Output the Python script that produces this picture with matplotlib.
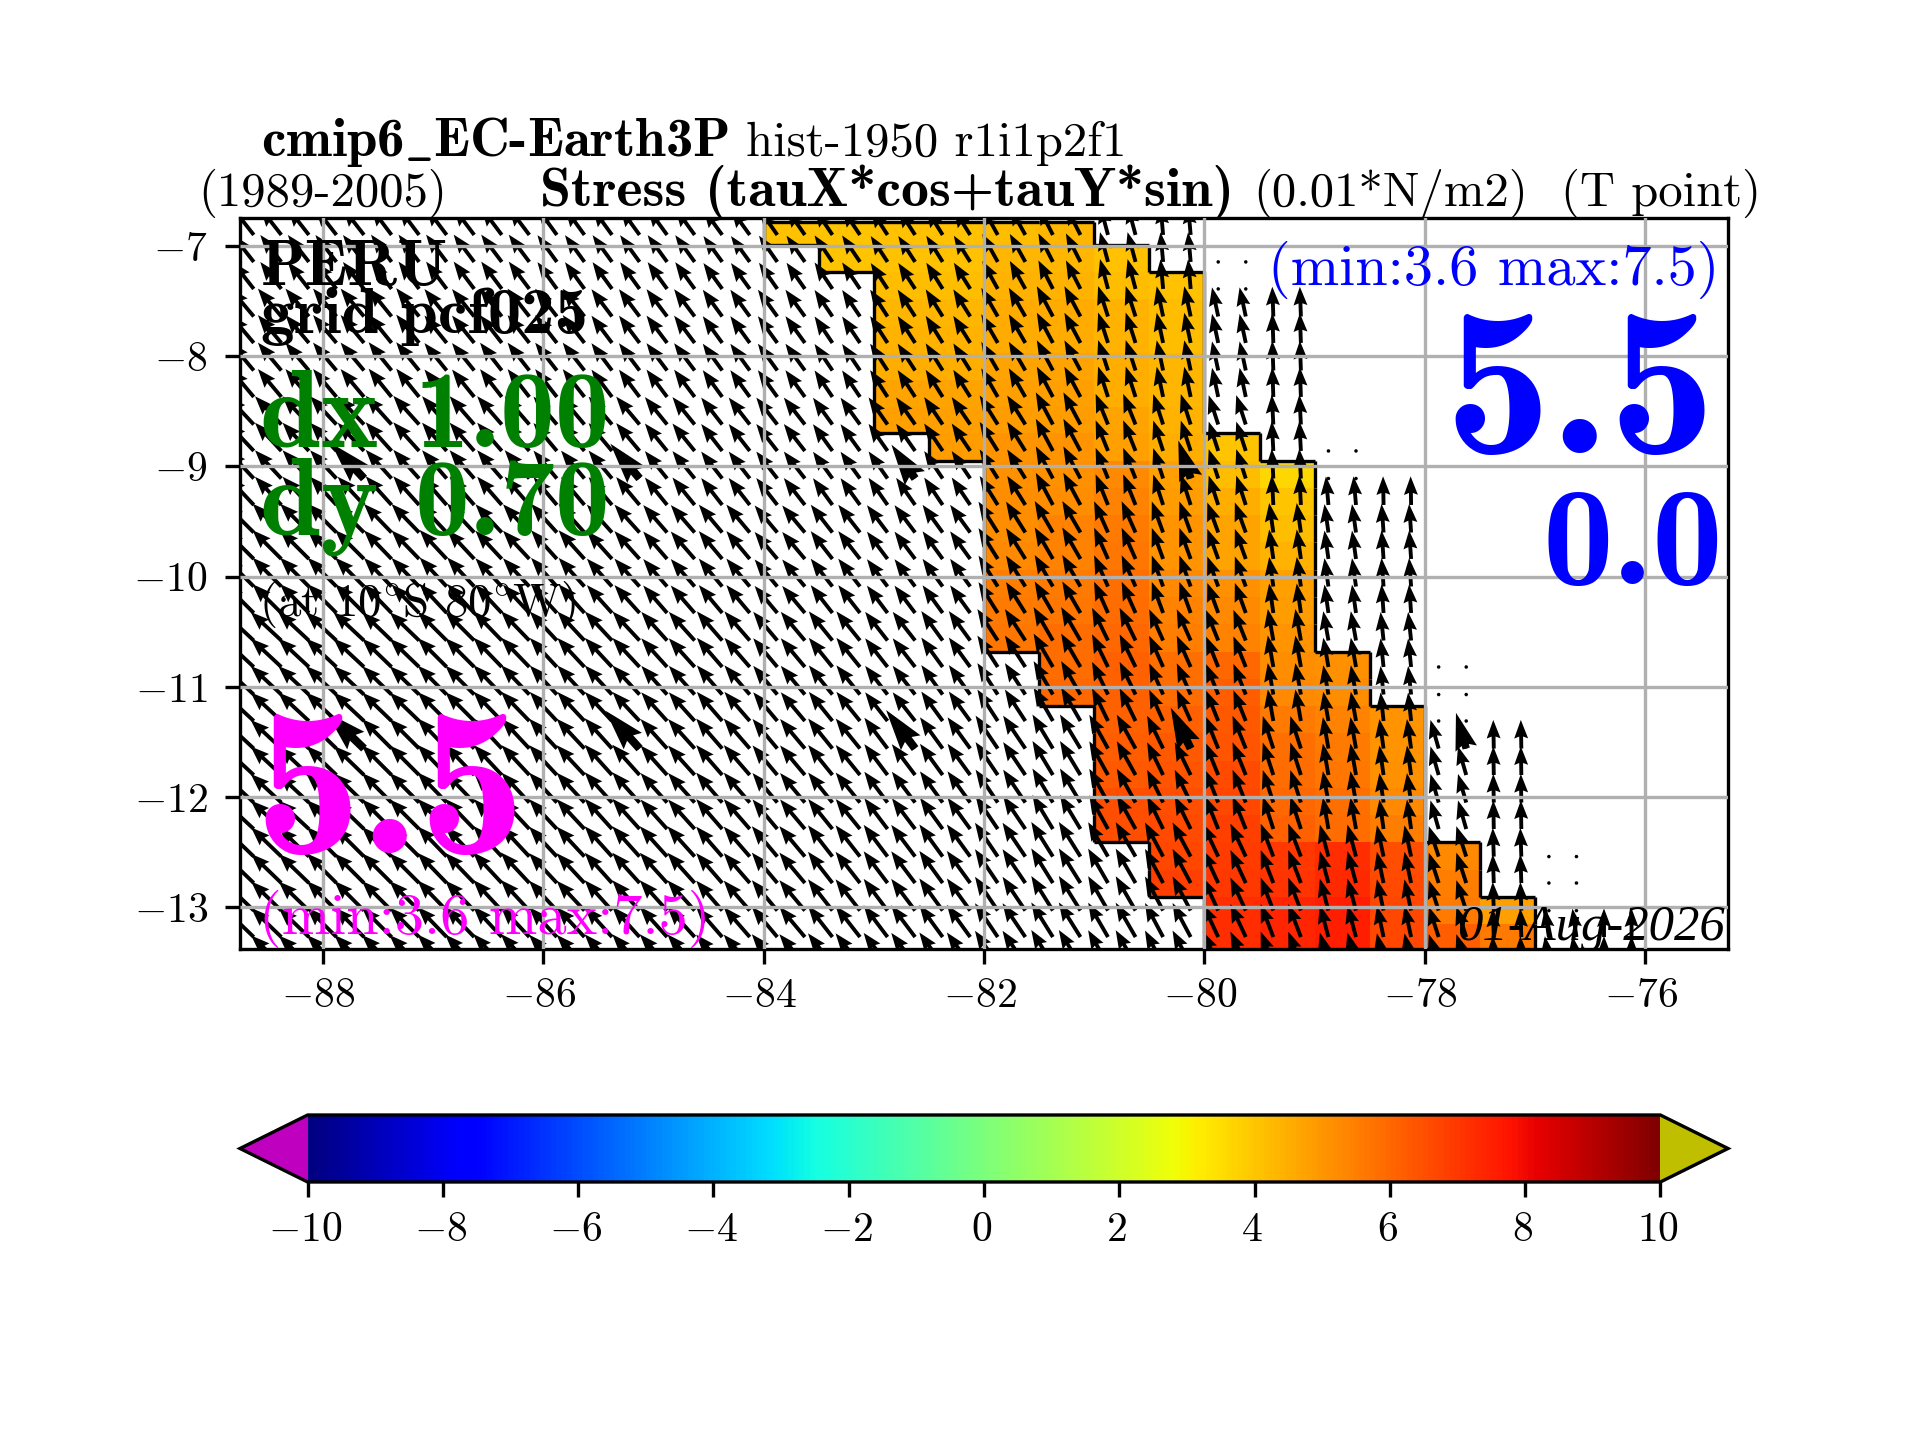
import matplotlib
matplotlib.use('Agg')
import matplotlib.pyplot as plt
from matplotlib.collections import LineCollection
from matplotlib.cm import ScalarMappable
from matplotlib.colors import Normalize
from matplotlib.transforms import ScaledTranslation
import numpy as np

plt.rcParams['font.family'] = ['cmr10', 'DejaVu Serif']
plt.rcParams['mathtext.fontset'] = 'cm'
plt.rcParams['axes.formatter.use_mathtext'] = True
plt.rcParams['axes.unicode_minus'] = True

nan = np.nan

# Cell edges of the stress field
lon_edges = [-84, -83.5, -83, -82.5, -82, -81.5, -81, -80.5, -80, -79.5, -79, -78.5, -78, -77.5, -77]
lat_edges = [-6.78, -6.995, -7.24, -7.485, -7.73, -7.97, -8.215, -8.46, -8.70, -8.95, -9.195, -9.44,
             -9.69, -9.94, -10.185, -10.43, -10.68, -10.925, -11.17, -11.42, -11.67, -11.915, -12.16,
             -12.41, -12.66, -12.905, -13.15, -13.395]

# Stress in 0.01 N/m2, top row first, estimated from the colours
stress = [
    [4.1, 4.0, 4.1, 4.1, 4.2, 4.3, nan, nan, nan, nan, nan, nan, nan, nan],
    [nan, 4.0, 4.1, 4.1, 4.3, 4.3, 4.1, nan, nan, nan, nan, nan, nan, nan],
    [nan, nan, 4.2, 4.2, 4.4, 4.4, 4.2, 4.1, nan, nan, nan, nan, nan, nan],
    [nan, nan, 4.3, 4.3, 4.6, 4.6, 4.4, 4.2, nan, nan, nan, nan, nan, nan],
    [nan, nan, 4.4, 4.4, 4.6, 4.6, 4.4, 4.2, nan, nan, nan, nan, nan, nan],
    [nan, nan, 4.5, 4.5, 4.7, 4.7, 4.5, 4.3, nan, nan, nan, nan, nan, nan],
    [nan, nan, 4.7, 4.7, 4.8, 4.8, 4.5, 4.3, nan, nan, nan, nan, nan, nan],
    [nan, nan, 4.8, 4.8, 4.9, 4.9, 4.7, 4.4, nan, nan, nan, nan, nan, nan],
    [nan, nan, nan, 4.9, 5.0, 5.0, 4.8, 4.5, 4.0, nan, nan, nan, nan, nan],
    [nan, nan, nan, nan, 5.1, 5.1, 5.3, 4.8, 4.2, 3.6, nan, nan, nan, nan],
    [nan, nan, nan, nan, 5.2, 5.2, 5.4, 4.9, 4.5, 4.0, nan, nan, nan, nan],
    [nan, nan, nan, nan, 5.2, 5.4, 5.6, 5.0, 4.7, 4.2, nan, nan, nan, nan],
    [nan, nan, nan, nan, 5.3, 5.4, 5.7, 5.0, 4.7, 4.4, nan, nan, nan, nan],
    [nan, nan, nan, nan, 5.5, 5.6, 5.8, 5.3, 5.1, 4.8, nan, nan, nan, nan],
    [nan, nan, nan, nan, 5.6, 5.7, 5.9, 5.4, 5.3, 4.9, nan, nan, nan, nan],
    [nan, nan, nan, nan, 5.7, 5.9, 6.0, 5.5, 5.4, 5.0, nan, nan, nan, nan],
    [nan, nan, nan, nan, nan, 5.9, 6.1, 5.8, 6.0, 5.2, 5.1, nan, nan, nan],
    [nan, nan, nan, nan, nan, 6.0, 6.1, 5.9, 6.2, 5.3, 5.2, nan, nan, nan],
    [nan, nan, nan, nan, nan, nan, 6.1, 6.1, 6.3, 5.6, 5.4, 5.0, nan, nan],
    [nan, nan, nan, nan, nan, nan, 6.2, 6.3, 6.4, 5.8, 5.6, 5.0, nan, nan],
    [nan, nan, nan, nan, nan, nan, 6.3, 6.4, 6.6, 5.9, 5.7, 5.1, nan, nan],
    [nan, nan, nan, nan, nan, nan, 6.5, 6.5, 6.7, 6.0, 5.8, 5.3, nan, nan],
    [nan, nan, nan, nan, nan, nan, 6.5, 6.6, 6.8, 6.1, 5.9, 5.5, nan, nan],
    [nan, nan, nan, nan, nan, nan, nan, 6.7, 6.9, 7.0, 7.2, 6.5, 5.3, nan],
    [nan, nan, nan, nan, nan, nan, nan, 6.8, 7.0, 7.1, 7.3, 6.6, 5.5, nan],
    [nan, nan, nan, nan, nan, nan, nan, nan, 7.2, 7.4, 7.5, 6.7, 5.6, 4.8],
    [nan, nan, nan, nan, nan, nan, nan, nan, 7.2, 7.4, 7.5, 6.7, 6.2, 5.6],
]

# Arrow tails: two columns in each half degree block
arrow_lons = np.arange(-88.625, -76, 0.25)
arrow_lats = [-6.90, -7.145, -7.39, -7.64, -7.88, -8.13, -8.37, -8.62, -8.86, -9.11, -9.35, -9.60, -9.84,
              -10.09, -10.33, -10.58, -10.82, -11.07, -11.31, -11.56, -11.80, -12.05, -12.29, -12.54,
              -12.78, -13.03, -13.27, -13.52]

# Direction (degrees west of north) and length (degrees) per lat band and block
band_lats = [-7, -8, -9, -10, -11, -12, -13]
block_lons = [-89, -88.5, -88, -87.5, -87, -86.5, -86, -85.5, -85, -84.5, -84, -83.5, -83, -82.5, -82,
              -81.5, -81, -80.5, -80, -79.5, -79, -78.5, -78, -77.5, -77, -76.5]
arrow_angle = [
    [38, 38, 38, 37, 37, 37, 36, 36, 36, 36, 35, 34, 33, 32, 29, 27, 15, 5, 7, 0, 0, 0, 0, 0, 0, 0],
    [40, 40, 40, 39, 39, 38, 38, 37, 37, 36, 36, 34, 33, 32, 30, 28, 18, 12, 12, 2, 0, 0, 0, 0, 0, 0],
    [43, 43, 43, 42, 41, 41, 40, 40, 39, 38, 38, 36, 35, 34, 32, 28, 22, 18, 18, 3, 5, 1, 0, 0, 0, 0],
    [45, 45, 45, 44, 43, 43, 42, 42, 41, 40, 40, 38, 37, 36, 32, 30, 24, 20, 20, 8, 8, 4, 0, 0, 0, 0],
    [47, 47, 47, 46, 45, 44, 43, 43, 42, 41, 40, 39, 38, 36, 33, 30, 26, 24, 22, 10, 10, 6, 10, 0, 0, 0],
    [47, 47, 46, 45, 44, 43, 43, 42, 42, 41, 40, 39, 37, 36, 34, 31, 29, 26, 22, 18, 10, 8, 16, 1, 0, 0],
    [46, 46, 45, 45, 44, 43, 43, 42, 42, 41, 40, 38, 37, 36, 34, 32, 30, 28, 25, 21, 15, 12, 18, 2, 8, 0],
]
arrow_len = [
    [.31, .31, .31, .31, .31, .31, .30, .30, .30, .29, .29, .29, .28, .28, .29, .29, .28, .27, .26, .26, .26, .26, .26, .26, .26, .26],
    [.33, .33, .33, .33, .32, .32, .32, .31, .31, .30, .30, .29, .29, .29, .30, .31, .29, .28, .27, .27, .26, .26, .26, .26, .26, .26],
    [.35, .35, .35, .35, .34, .34, .33, .33, .32, .31, .31, .30, .30, .30, .31, .33, .30, .29, .28, .27, .26, .26, .26, .26, .26, .26],
    [.37, .37, .37, .36, .36, .35, .35, .34, .33, .33, .32, .32, .31, .31, .33, .33, .31, .30, .29, .27, .26, .26, .26, .26, .26, .26],
    [.38, .38, .38, .37, .37, .37, .36, .36, .35, .35, .34, .34, .33, .33, .34, .35, .33, .31, .30, .29, .27, .26, .26, .26, .26, .26],
    [.38, .38, .38, .38, .38, .37, .37, .37, .36, .36, .35, .35, .35, .35, .36, .36, .35, .33, .32, .31, .29, .27, .27, .26, .26, .26],
    [.38, .38, .38, .38, .38, .38, .37, .37, .37, .36, .36, .36, .36, .36, .37, .37, .36, .35, .33, .32, .30, .29, .29, .26, .26, .26],
]

# East of -80 the arrows start lower down, some blocks have zero vectors on top
east_blocks = [-80, -79.5, -79, -78.5, -78, -77.5, -77, -76.5]
first_arrow_lat = [-7.64, -7.64, -9.35, -9.35, -11.56, -11.56, -13.27, -13.27]
first_dot_lat = [-7.145, nan, -8.86, nan, -10.82, nan, -12.54, nan]

# Larger arrows, overdrawn on the field
big_lons = [-87.625, -85.125, -82.625, -80.125, -87.625, -85.125, -82.625, -80.125, -77.625]
big_lats = [-9.11, -9.11, -9.11, -9.11, -11.56, -11.56, -11.56, -11.56, -11.56]

xticks = [-88, -86, -84, -82, -80, -78, -76]
yticks = [-7, -8, -9, -10, -11, -12, -13]
cbar_ticks = [-10, -8, -6, -4, -2, 0, 2, 4, 6, 8, 10]


def arrow_uv(lon, lat):
    i = int(np.argmin(np.abs(np.array(band_lats) - lat)))
    j = int(np.searchsorted(block_lons, lon) - 1)
    a = np.deg2rad(arrow_angle[i][j])
    return -arrow_len[i][j] * np.sin(a), arrow_len[i][j] * np.cos(a)


def tp(x, y, s, **kw):
    # x and baseline y in pixels of the 1920x1440 picture
    fig.text(x / 1920, 1 - y / 1440, s, va='baseline', zorder=6, **kw)


def nudge(labels, px):
    for label in labels:
        label.set_transform(label.get_transform() + ScaledTranslation(px / 300, 0, fig.dpi_scale_trans))


fig = plt.figure(figsize=(6.4, 4.8), dpi=300)
ax = fig.add_axes([0.125, 1 - 949 / 1440, 0.775, 731 / 1440])

cmap = plt.get_cmap('jet').copy()
cmap.set_under((0.75, 0, 0.75))
cmap.set_over((0.75, 0.75, 0))
norm = Normalize(-10, 10)

field = np.array(stress)
ax.pcolormesh(lon_edges, lat_edges, np.ma.masked_invalid(field), cmap=cmap, norm=norm, zorder=1)

# Black staircase round the filled cells
segments = []
filled = ~np.isnan(field)
for r in range(filled.shape[0]):
    for c in range(filled.shape[1]):
        if not filled[r, c]:
            continue
        if r == 0 or not filled[r - 1, c]:
            segments.append([(lon_edges[c], lat_edges[r]), (lon_edges[c + 1], lat_edges[r])])
        if r == filled.shape[0] - 1 or not filled[r + 1, c]:
            segments.append([(lon_edges[c], lat_edges[r + 1]), (lon_edges[c + 1], lat_edges[r + 1])])
        if c == 0 or not filled[r, c - 1]:
            segments.append([(lon_edges[c], lat_edges[r]), (lon_edges[c], lat_edges[r + 1])])
        if c == filled.shape[1] - 1 or not filled[r, c + 1]:
            segments.append([(lon_edges[c + 1], lat_edges[r]), (lon_edges[c + 1], lat_edges[r + 1])])
ax.add_collection(LineCollection(segments, colors='k', linewidths=0.8, zorder=1.5))

xs, ys, us, vs = [], [], [], []
for lon in arrow_lons:
    for lat in arrow_lats:
        u, v = arrow_uv(lon, lat)
        if lon > -80:
            k = int(np.floor((lon + 80) / 0.5))
            if lat > first_arrow_lat[k] + 0.01:
                if np.isnan(first_dot_lat[k]) or lat > first_dot_lat[k] + 0.01:
                    continue
                u, v = 0.0, 0.0
        xs.append(lon)
        ys.append(lat)
        us.append(u)
        vs.append(v)
ax.quiver(xs, ys, us, vs, angles='xy', scale_units='xy', scale=1, pivot='tail', width=0.0026,
          headwidth=3.6, headlength=4.8, headaxislength=4.3, zorder=2)

big = [arrow_uv(lo, la) for lo, la in zip(big_lons, big_lats)]
ax.quiver(big_lons, big_lats, [b[0] for b in big], [b[1] for b in big], angles='xy', scale_units='xy',
          scale=0.8, pivot='tail', width=0.0055, zorder=2)

ax.set_aspect('equal')
ax.set_xlim(-88.75, -75.25)
ax.set_ylim(-13.375, -6.75)
ax.set_xticks(xticks)
ax.set_yticks(yticks)
ax.grid(True)
ax.set_axisbelow(False)
nudge(ax.get_xticklabels(), -4.5)
nudge(ax.get_yticklabels(), -3)

cax = fig.add_axes([0.125, 1 - 1182 / 1440, 0.775, 67 / 1440])
cbar = fig.colorbar(ScalarMappable(norm=norm, cmap=cmap), cax=cax, orientation='horizontal', extend='both',
                    ticks=cbar_ticks)
nudge(cax.get_xticklabels(), -2.5)

tp(261, 156, r'cmip6$\_$EC-Earth3P', family='cmb10', fontsize=13.2)
tp(746, 156, 'hist-1950 r1i1p2f1', fontsize=11.7)
tp(198, 206, '(1989-2005)', fontsize=11.7)
tp(540, 206, 'Stress (tauX*cos+tauY*sin)', family='cmb10', fontsize=13.4)
tp(1253, 206, '(0.01*N/m2)', fontsize=11.7)
tp(1561, 206, '(T point)', fontsize=11.7)

tp(261, 285, 'PERU', family='cmb10', fontsize=15.7)
tp(261, 333, 'grid pcf025', family='cmb10', fontsize=16)
tp(260, 447, 'dx 1.00', color='green', family='cmb10', fontsize=26.3)
tp(260, 535, 'dy 0.70', color='green', family='cmb10', fontsize=26.3)
tp(259, 616, r'(at 10$^{\circ}$S 80$^{\circ}$W)', fontsize=11.25)
tp(1719, 285, '(min:3.6 max:7.5)', color='blue', fontsize=14, ha='right')
tp(1716, 453, '5.5', color='blue', family='cmb10', fontsize=51, ha='right')
tp(1723, 584, '0.0', color='blue', family='cmb10', fontsize=34, ha='right')
tp(254, 853, '5.5', color='magenta', family='cmb10', fontsize=51)
tp(259, 934, '(min:3.6 max:7.5)', color='magenta', fontsize=14)
tp(1725, 940, '01-Aug-2026', family='Liberation Serif', style='italic', fontsize=12.2, ha='right')

fig.savefig('out.png', dpi=300)
